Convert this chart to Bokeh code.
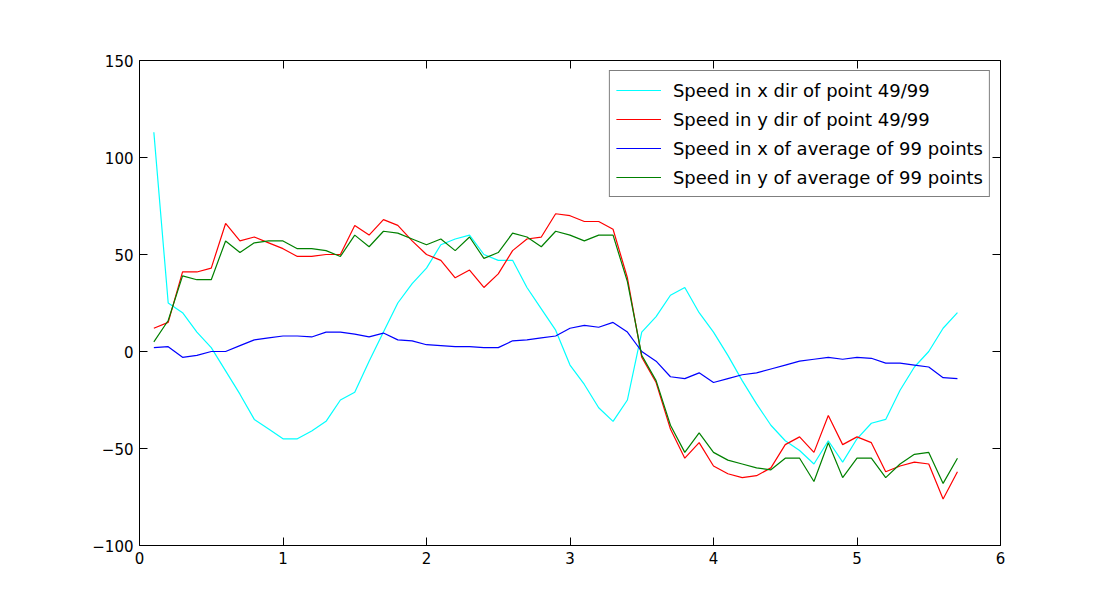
from bokeh.embed import file_html
from bokeh.resources import INLINE
from bokeh.models import LinearAxis, Range1d, Legend, LegendItem, FixedTicker
from bokeh.plotting import figure

t = [round(0.1 * i, 1) for i in range(1, 58)]

vx_pt = [113, 25, 20, 10, 2, -10, -22, -35, -40, -45, -45, -41, -36, -25, -21, -5, 10, 25, 35, 43,
         55, 58, 60, 50, 47, 47, 33, 22, 11, -7, -17, -29, -36, -25, 10, 18, 29, 33, 20, 10,
         -2, -15, -27, -38, -46, -51, -58, -46, -57, -45, -37, -35, -20, -8, 0, 12, 20]
vy_pt = [12, 15, 41, 41, 43, 66, 57, 59, 56, 53, 49, 49, 50, 50, 65, 60, 68, 65, 57, 50,
         47, 38, 42, 33, 40, 52, 58, 59, 71, 70, 67, 67, 63, 38, -3, -16, -40, -55, -47, -59,
         -63, -65, -64, -60, -48, -44, -52, -33, -48, -44, -47, -62, -59, -57, -58, -76, -62]
vx_avg = [2, 2.5, -3, -2, 0, 0, 3, 6, 7, 8, 8, 7.5, 10, 10, 9, 7.5, 9.5, 6, 5.5, 3.5,
          3, 2.5, 2.5, 2, 2, 5.5, 6, 7, 8, 12, 13.5, 12.5, 15, 10, 0, -5, -13, -14, -11, -16,
          -14, -12, -11, -9, -7, -5, -4, -3, -4, -3, -3.5, -6, -6, -7, -8, -13.5, -14]
vy_avg = [5, 16, 39, 37, 37, 57, 51, 56, 57, 57, 53, 53, 52, 49, 60, 54, 62, 61, 58, 55,
          58, 52, 59, 48, 51, 61, 59, 54, 62, 60, 57, 60, 60, 36, -2, -15, -38, -52, -42, -52,
          -56, -58, -60, -61, -55, -55, -67, -47, -65, -55, -55, -65, -58, -53, -52, -68, -55]

series = [
    ("Speed in x dir of point 49/99", vx_pt, "cyan"),
    ("Speed in y dir of point 49/99", vy_pt, "red"),
    ("Speed in x of average of 99 points", vx_avg, "blue"),
    ("Speed in y of average of 99 points", vy_avg, "green"),
]

p = figure(frame_width=861, frame_height=485, output_backend="svg", toolbar_location=None,
           x_range=Range1d(0, 6), y_range=Range1d(-100, 150),
           min_border_left=139, min_border_right=95, min_border_top=60, min_border_bottom=44)
p.xgrid.visible = False
p.ygrid.visible = False
p.outline_line_color = "black"
p.background_fill_color = "white"
p.border_fill_color = "white"

items = []
for label, ys, col in series:
    r = p.line(t, ys, line_color=col, line_width=1.2)
    items.append(LegendItem(label=label, renderers=[r]))

xt = FixedTicker(ticks=[0, 1, 2, 3, 4, 5, 6])
yt = FixedTicker(ticks=[-100, -50, 0, 50, 100, 150])
p.xaxis.ticker = xt
p.yaxis.ticker = yt
p.add_layout(LinearAxis(ticker=xt), "above")
p.add_layout(LinearAxis(ticker=yt), "right")
for ax in p.axis:
    ax.major_tick_in = 8
    ax.major_tick_out = 0
    ax.minor_tick_line_color = None
    ax.axis_line_color = None
    ax.major_label_text_font = "DejaVu Sans"
    ax.major_label_text_font_size = "15px"
    ax.major_label_text_color = "black"
    ax.major_label_standoff = 6
for ax in p.above + p.right:
    ax.major_label_text_alpha = 0

leg = Legend(items=items, location="top_right", label_text_font="DejaVu Sans",
             label_text_font_size="18px", label_text_color="black",
             border_line_color="black", border_line_width=1,
             glyph_width=45, glyph_height=26, spacing=3, margin=10, padding=6, label_height=26,
             label_standoff=12)
p.add_layout(leg)

open("out.html", "w").write(file_html(p, INLINE))
